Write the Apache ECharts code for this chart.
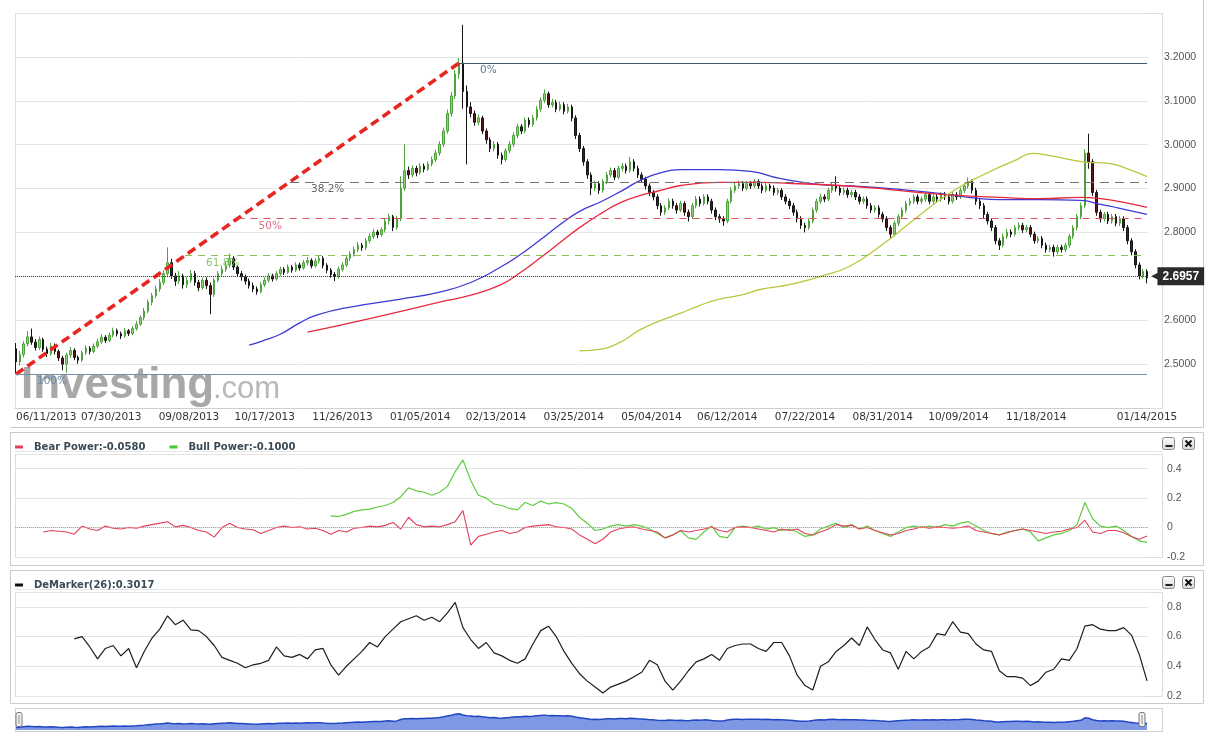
<!DOCTYPE html>
<html><head><meta charset="utf-8">
<script src="https://cdn.jsdelivr.net/npm/echarts@6/dist/echarts.min.js"></script>
<style>html,body{margin:0;padding:0;background:#fff}#c{width:1220px;height:740px}</style>
</head><body><div id="c"></div>
<script>
// ---------- DATA ----------
const startDay = '2013-06-11';
const endDay = '2015-01-14';
const tickLabels = ['06/11/2013','07/30/2013','09/08/2013','10/17/2013','11/26/2013','01/05/2014','02/13/2014','03/25/2014','05/04/2014','06/12/2014','07/22/2014','08/31/2014','10/09/2014','11/18/2014','01/14/2015'];
const candleStepDays = 2;
// [open, close, low, high]
const candles = [
[2.535,2.505,2.478,2.548],[2.505,2.522,2.497,2.530],[2.522,2.546,2.515,2.552],[2.546,2.562,2.540,2.575],[2.562,2.550,2.544,2.581],[2.550,2.538,2.531,2.557],[2.538,2.556,2.532,2.563],[2.556,2.534,2.528,2.560],[2.534,2.524,2.516,2.540],[2.524,2.541,2.519,2.548],
[2.541,2.529,2.522,2.547],[2.529,2.514,2.507,2.533],[2.514,2.500,2.486,2.519],[2.500,2.521,2.480,2.526],[2.521,2.531,2.514,2.539],[2.531,2.515,2.509,2.536],[2.515,2.509,2.501,2.520],[2.509,2.526,2.505,2.531],[2.526,2.536,2.521,2.543],[2.536,2.529,2.522,2.541],
[2.529,2.541,2.525,2.547],[2.541,2.551,2.536,2.558],[2.551,2.561,2.546,2.568],[2.561,2.554,2.548,2.566],[2.554,2.566,2.550,2.572],[2.566,2.576,2.561,2.583],[2.576,2.569,2.563,2.581],[2.569,2.564,2.557,2.574],[2.564,2.576,2.560,2.582],[2.576,2.570,2.564,2.580],
[2.570,2.581,2.566,2.587],[2.581,2.591,2.576,2.598],[2.591,2.606,2.587,2.611],[2.606,2.621,2.600,2.628],[2.621,2.641,2.616,2.647],[2.641,2.656,2.634,2.662],[2.656,2.671,2.650,2.679],[2.671,2.686,2.665,2.694],[2.686,2.706,2.680,2.714],[2.706,2.731,2.698,2.766],
[2.731,2.701,2.694,2.740],[2.701,2.689,2.678,2.708],[2.689,2.701,2.682,2.712],[2.701,2.681,2.672,2.706],[2.681,2.691,2.673,2.699],[2.691,2.706,2.685,2.714],[2.706,2.686,2.679,2.712],[2.686,2.674,2.666,2.692],[2.674,2.691,2.669,2.697],[2.691,2.679,2.671,2.698],
[2.679,2.659,2.614,2.686],[2.659,2.691,2.653,2.697],[2.691,2.706,2.686,2.712],[2.706,2.716,2.699,2.723],[2.716,2.726,2.710,2.733],[2.726,2.741,2.720,2.752],[2.741,2.721,2.714,2.746],[2.721,2.706,2.698,2.726],[2.706,2.699,2.690,2.712],[2.699,2.689,2.681,2.704],
[2.689,2.679,2.672,2.695],[2.679,2.671,2.664,2.686],[2.671,2.665,2.658,2.677],[2.665,2.681,2.661,2.687],[2.681,2.691,2.676,2.698],[2.691,2.701,2.686,2.707],[2.701,2.694,2.688,2.706],[2.694,2.706,2.690,2.712],[2.706,2.716,2.701,2.722],[2.716,2.709,2.703,2.721],
[2.709,2.721,2.705,2.727],[2.721,2.714,2.708,2.726],[2.714,2.726,2.710,2.732],[2.726,2.719,2.713,2.731],[2.719,2.731,2.715,2.737],[2.731,2.736,2.725,2.744],[2.736,2.724,2.718,2.741],[2.724,2.735,2.720,2.741],[2.735,2.741,2.729,2.748],[2.741,2.725,2.718,2.746],
[2.725,2.714,2.707,2.730],[2.714,2.704,2.697,2.719],[2.704,2.700,2.689,2.710],[2.700,2.716,2.695,2.722],[2.716,2.726,2.711,2.732],[2.726,2.741,2.721,2.747],[2.741,2.751,2.735,2.757],[2.751,2.761,2.745,2.768],[2.761,2.771,2.755,2.778],[2.771,2.765,2.758,2.776],
[2.765,2.781,2.760,2.787],[2.781,2.791,2.775,2.798],[2.791,2.801,2.785,2.808],[2.801,2.795,2.787,2.806],[2.795,2.806,2.790,2.812],[2.806,2.826,2.800,2.833],[2.826,2.836,2.818,2.843],[2.836,2.811,2.803,2.840],[2.811,2.831,2.806,2.838],[2.831,2.901,2.826,2.928],
[2.901,2.941,2.895,3.001],[2.941,2.931,2.922,2.950],[2.931,2.946,2.926,2.953],[2.946,2.936,2.928,2.952],[2.936,2.951,2.931,2.958],[2.951,2.944,2.937,2.957],[2.944,2.956,2.940,2.962],[2.956,2.966,2.951,2.973],[2.966,2.981,2.960,2.988],[2.981,3.001,2.975,3.008],
[3.001,3.031,2.995,3.039],[3.031,3.071,3.025,3.080],[3.071,3.111,3.064,3.120],[3.111,3.161,3.104,3.170],[3.161,3.186,3.150,3.197],[3.186,3.121,3.082,3.273],[3.121,3.086,2.955,3.135],[3.086,3.071,3.062,3.097],[3.071,3.051,3.043,3.078],[3.051,3.061,3.044,3.069],
[3.061,3.031,3.024,3.066],[3.031,3.011,3.002,3.037],[3.011,2.991,2.983,3.017],[2.991,3.001,2.985,3.008],[3.001,2.976,2.968,3.006],[2.976,2.966,2.955,2.982],[2.966,2.986,2.961,2.992],[2.986,3.001,2.980,3.008],[3.001,3.021,2.995,3.028],[3.021,3.041,3.015,3.048],
[3.041,3.031,3.024,3.047],[3.031,3.056,3.026,3.062],[3.056,3.046,3.039,3.062],[3.046,3.061,3.041,3.068],[3.061,3.081,3.055,3.088],[3.081,3.101,3.075,3.108],[3.101,3.116,3.095,3.126],[3.116,3.091,3.084,3.121],[3.091,3.096,3.085,3.104],[3.096,3.081,3.074,3.102],
[3.081,3.091,3.076,3.098],[3.091,3.076,3.069,3.097],[3.076,3.086,3.071,3.093],[3.086,3.061,3.053,3.091],[3.061,3.021,3.013,3.067],[3.021,2.991,2.983,3.027],[2.991,2.961,2.952,2.997],[2.961,2.931,2.922,2.967],[2.931,2.901,2.885,2.937],[2.901,2.911,2.894,2.918],
[2.911,2.896,2.888,2.917],[2.896,2.916,2.891,2.922],[2.916,2.931,2.910,2.938],[2.931,2.941,2.925,2.948],[2.941,2.926,2.919,2.947],[2.926,2.946,2.921,2.952],[2.946,2.951,2.939,2.958],[2.951,2.941,2.934,2.957],[2.941,2.961,2.936,2.972],[2.961,2.946,2.939,2.967],
[2.946,2.931,2.924,2.952],[2.931,2.921,2.913,2.937],[2.921,2.906,2.898,2.927],[2.906,2.891,2.883,2.912],[2.891,2.881,2.873,2.897],[2.881,2.861,2.853,2.887],[2.861,2.846,2.838,2.867],[2.846,2.856,2.840,2.862],[2.856,2.871,2.851,2.877],[2.871,2.861,2.854,2.877],
[2.861,2.851,2.843,2.867],[2.851,2.866,2.846,2.872],[2.866,2.846,2.838,2.871],[2.846,2.836,2.825,2.852],[2.836,2.861,2.831,2.867],[2.861,2.876,2.855,2.883],[2.876,2.866,2.859,2.882],[2.866,2.881,2.861,2.887],[2.881,2.871,2.864,2.887],[2.871,2.851,2.843,2.877],
[2.851,2.836,2.828,2.857],[2.836,2.831,2.822,2.842],[2.831,2.826,2.815,2.837],[2.826,2.871,2.821,2.877],[2.871,2.896,2.866,2.903],[2.896,2.906,2.890,2.913],[2.906,2.911,2.900,2.918],[2.911,2.901,2.894,2.917],[2.901,2.911,2.896,2.917],[2.911,2.906,2.899,2.917],
[2.906,2.916,2.901,2.922],[2.916,2.906,2.899,2.921],[2.906,2.896,2.889,2.912],[2.896,2.906,2.891,2.912],[2.906,2.901,2.894,2.911],[2.901,2.891,2.884,2.907],[2.891,2.896,2.885,2.902],[2.896,2.881,2.874,2.901],[2.881,2.871,2.864,2.887],[2.871,2.861,2.853,2.877],
[2.861,2.846,2.838,2.867],[2.846,2.831,2.823,2.852],[2.831,2.816,2.808,2.837],[2.816,2.811,2.800,2.822],[2.811,2.826,2.806,2.832],[2.826,2.851,2.821,2.857],[2.851,2.871,2.845,2.877],[2.871,2.881,2.865,2.888],[2.881,2.876,2.869,2.887],[2.876,2.896,2.871,2.902],
[2.896,2.906,2.890,2.913],[2.906,2.901,2.893,2.928],[2.901,2.891,2.884,2.907],[2.891,2.896,2.885,2.903],[2.896,2.886,2.879,2.902],[2.886,2.891,2.880,2.897],[2.891,2.881,2.874,2.897],[2.881,2.871,2.864,2.887],[2.871,2.876,2.865,2.882],[2.876,2.861,2.854,2.882],
[2.861,2.851,2.844,2.867],[2.851,2.856,2.845,2.862],[2.856,2.841,2.834,2.862],[2.841,2.831,2.823,2.847],[2.831,2.811,2.803,2.837],[2.811,2.796,2.785,2.817],[2.796,2.821,2.791,2.827],[2.821,2.836,2.815,2.842],[2.836,2.851,2.830,2.857],[2.851,2.866,2.845,2.872],
[2.866,2.871,2.860,2.878],[2.871,2.881,2.865,2.887],[2.881,2.871,2.864,2.887],[2.871,2.876,2.865,2.882],[2.876,2.886,2.870,2.892],[2.886,2.871,2.864,2.892],[2.871,2.881,2.865,2.887],[2.881,2.876,2.869,2.887],[2.876,2.886,2.870,2.892],[2.886,2.881,2.874,2.892],
[2.881,2.871,2.864,2.887],[2.871,2.886,2.866,2.892],[2.886,2.881,2.874,2.892],[2.881,2.896,2.876,2.902],[2.896,2.906,2.890,2.913],[2.906,2.916,2.900,2.925],[2.916,2.896,2.889,2.921],[2.896,2.871,2.863,2.902],[2.871,2.861,2.853,2.877],[2.861,2.841,2.833,2.867],
[2.841,2.826,2.818,2.847],[2.826,2.811,2.803,2.832],[2.811,2.781,2.773,2.817],[2.781,2.771,2.760,2.787],[2.771,2.791,2.766,2.797],[2.791,2.801,2.785,2.808],[2.801,2.796,2.789,2.807],[2.796,2.811,2.791,2.817],[2.811,2.816,2.805,2.823],[2.816,2.806,2.799,2.822],
[2.806,2.811,2.800,2.817],[2.811,2.796,2.789,2.817],[2.796,2.781,2.774,2.802],[2.781,2.786,2.775,2.792],[2.786,2.771,2.764,2.792],[2.771,2.761,2.754,2.777],[2.761,2.766,2.755,2.772],[2.766,2.756,2.745,2.772],[2.756,2.766,2.750,2.772],[2.766,2.761,2.754,2.772],
[2.761,2.771,2.755,2.777],[2.771,2.791,2.765,2.797],[2.791,2.811,2.785,2.817],[2.811,2.836,2.805,2.842],[2.836,2.861,2.830,2.868],[2.861,2.981,2.855,2.990],[2.981,2.961,2.945,3.025],[2.961,2.891,2.883,2.967],[2.891,2.846,2.838,2.897],[2.846,2.831,2.823,2.852],
[2.831,2.841,2.825,2.847],[2.841,2.826,2.819,2.847],[2.826,2.836,2.820,2.842],[2.836,2.821,2.814,2.842],[2.821,2.831,2.815,2.837],[2.831,2.811,2.803,2.837],[2.811,2.781,2.773,2.817],[2.781,2.756,2.748,2.787],[2.756,2.726,2.718,2.762],[2.726,2.701,2.693,2.732],
[2.701,2.711,2.695,2.717],[2.711,2.696,2.684,2.716]
];
// moving averages: [dayIndex, value]
const maBlue = [[120,2.543],[127,2.553],[136,2.568],[146,2.594],[155,2.612],[172,2.630],[198,2.648],[218,2.664],[234,2.686],[249,2.720],[259,2.748],[270,2.784],[280,2.818],[290,2.848],[301,2.870],[311,2.893],[321,2.918],[331,2.935],[342,2.943],[362,2.943],[378,2.939],[393,2.923],[414,2.909],[434,2.905],[455,2.898],[475,2.889],[496,2.877],[506,2.875],[527,2.875],[548,2.873],[558,2.864],[568,2.855],[582,2.841]];
const maRed = [[150,2.573],[167,2.589],[198,2.620],[218,2.641],[234,2.657],[249,2.680],[259,2.707],[270,2.743],[280,2.777],[290,2.811],[301,2.843],[311,2.868],[321,2.884],[331,2.895],[342,2.907],[362,2.914],[383,2.914],[403,2.911],[424,2.907],[445,2.900],[465,2.891],[486,2.884],[506,2.880],[527,2.877],[548,2.880],[558,2.877],[568,2.870],[582,2.857]];
const maYellow = [[290,2.530],[301,2.534],[311,2.550],[321,2.578],[331,2.598],[342,2.616],[352,2.634],[362,2.648],[373,2.657],[383,2.670],[393,2.677],[403,2.686],[414,2.700],[429,2.723],[446,2.773],[464,2.836],[481,2.891],[498,2.932],[515,2.966],[523,2.980],[532,2.975],[549,2.961],[563,2.957],[573,2.943],[582,2.927]];
const indicatorStepDays = 4;
const bearStartDay = 14;
const bearPower = [-0.03,-0.02,-0.025,-0.03,-0.045,0.01,-0.01,-0.02,0.01,-0.005,
-0.01,0.0,-0.005,0.01,0.02,0.03,0.04,0.005,0.015,0.0,
-0.02,-0.03,-0.065,0.0,0.03,0.0,-0.01,-0.015,-0.04,-0.02,
0.0,0.01,0.0,0.005,-0.01,-0.005,-0.02,-0.045,-0.02,-0.03,
-0.005,0.0,0.01,0.005,0.015,0.035,-0.01,0.07,0.02,0.005,
0.01,0.005,0.02,0.04,0.115,-0.12,-0.06,-0.045,-0.03,-0.02,
-0.04,-0.03,0.0,0.01,0.015,0.02,0.005,0.0,-0.01,-0.05,
-0.08,-0.11,-0.08,-0.03,-0.01,0.0,0.005,-0.01,-0.02,-0.03,
-0.07,-0.05,-0.02,-0.03,-0.02,-0.01,0.005,-0.02,-0.03,0.0,
0.005,0.0,-0.01,-0.02,-0.03,-0.01,-0.02,-0.01,-0.04,-0.05,
-0.03,-0.01,0.02,0.01,0.015,-0.01,0.0,-0.02,-0.035,-0.05,
-0.04,-0.02,-0.01,0.005,-0.005,0.005,0.0,-0.005,0.0,0.01,
-0.02,-0.03,-0.04,-0.05,-0.035,-0.02,-0.01,-0.02,-0.03,-0.04,
-0.03,-0.025,-0.01,0.0,0.05,-0.03,-0.04,-0.02,-0.02,-0.035,
-0.06,-0.08,-0.058];
const bullStartDay = 162;
const bullPower = [0.08,0.075,0.09,0.11,0.12,0.125,0.14,0.15,0.17,0.21,
0.27,0.25,0.24,0.22,0.24,0.28,0.38,0.46,0.32,0.22,
0.2,0.16,0.15,0.13,0.12,0.17,0.15,0.18,0.16,0.17,
0.16,0.13,0.07,0.03,-0.02,-0.01,0.01,0.02,0.01,0.02,
0.01,-0.01,-0.04,-0.07,-0.05,-0.02,-0.07,-0.08,-0.03,0.01,
-0.06,-0.07,0.0,0.01,0.0,0.01,-0.01,0.0,-0.02,-0.01,
-0.03,-0.06,-0.05,-0.01,0.01,0.03,0.0,0.02,-0.01,0.01,
-0.02,-0.04,-0.06,-0.03,0.0,0.01,0.0,0.01,0.0,0.02,
0.01,0.03,0.04,0.01,-0.02,-0.04,-0.05,-0.03,-0.02,-0.01,
-0.03,-0.09,-0.07,-0.05,-0.04,-0.02,0.02,0.17,0.06,0.01,
0.0,0.01,-0.02,-0.06,-0.09,-0.10];
const demStartDay = 30;
const deMarker = [0.585,0.60,0.53,0.45,0.52,0.54,0.47,0.52,0.39,0.50,
0.59,0.65,0.74,0.68,0.71,0.645,0.64,0.60,0.54,0.46,
0.44,0.42,0.39,0.41,0.42,0.44,0.53,0.47,0.46,0.48,
0.45,0.51,0.52,0.41,0.34,0.40,0.45,0.50,0.56,0.53,
0.60,0.65,0.70,0.72,0.74,0.71,0.73,0.70,0.76,0.83,
0.66,0.58,0.52,0.56,0.49,0.47,0.44,0.42,0.45,0.55,
0.64,0.67,0.60,0.50,0.42,0.35,0.30,0.26,0.22,0.26,
0.28,0.30,0.33,0.36,0.44,0.41,0.30,0.24,0.30,0.37,
0.43,0.45,0.48,0.44,0.52,0.54,0.55,0.55,0.52,0.50,
0.56,0.56,0.47,0.34,0.27,0.24,0.40,0.43,0.50,0.54,
0.59,0.54,0.665,0.58,0.51,0.49,0.38,0.50,0.45,0.50,
0.53,0.62,0.61,0.70,0.63,0.62,0.55,0.51,0.50,0.37,
0.33,0.33,0.32,0.27,0.30,0.36,0.38,0.45,0.44,0.52,
0.67,0.68,0.65,0.64,0.64,0.66,0.61,0.48,0.3017];
const fibLow = {day: 0, price: 2.477};
const fibHigh = {day: 228, price: 3.186};
const fibPcts = [0, 0.382, 0.5, 0.618, 1];
const fibTexts = ['0%', '38.2%', '50%', '61.8%', '100%'];
const lastPrice = 2.6957;

// ---------- BUILD ----------
const days = [];
for (let t = Date.parse(startDay + 'T00:00:00Z'); t <= Date.parse(endDay + 'T00:00:00Z'); t += 86400000) {
  const d = new Date(t);
  days.push(String(d.getUTCMonth() + 1).padStart(2, '0') + '/' + String(d.getUTCDate()).padStart(2, '0') + '/' + d.getUTCFullYear());
}
const lastDay = days.length - 1;
const tickSet = new Set(tickLabels);
const candleData = candles.map((c, i) => [i * candleStepDays, c[0], c[1], c[2], c[3]]);
const navData = candles.map((c, i) => [i * candleStepDays, c[1]]);
const seq = (arr, start) => arr.map((v, k) => [start + k * indicatorStepDays, v]);

const F = 'DejaVu Sans';
const fibStyle = [
  {color: '#3d5f75', type: 'solid', width: 1.2, lc: '#5b7d98'},
  {color: '#707070', type: [9, 6], width: 1.2, lc: '#666666'},
  {color: '#e0505f', type: [7, 6], width: 1.1, lc: '#e0708a'},
  {color: '#86c450', type: [7, 6], width: 1.1, lc: '#8cc868'},
  {color: '#7390ae', type: 'solid', width: 1.2, lc: '#6c8cb0'}
];
const fibLines = fibPcts.map((p, k) => {
  const price = fibHigh.price - p * (fibHigh.price - fibLow.price);
  const sd = fibHigh.day - p * (fibHigh.day - fibLow.day);
  const s = fibStyle[k];
  return [{coord: [sd, price], lineStyle: {color: s.color, type: s.type, width: s.width},
           label: {show: true, position: 'insideStartBottom', distance: [21, 2], formatter: fibTexts[k], color: s.lc, fontSize: 10.5, fontFamily: F}},
          {coord: [lastDay, price]}];
});
const markLines = [
  [{coord: [fibLow.day, fibLow.price], lineStyle: {color: '#e8251f', width: 3.6, type: [9, 5]}, label: {show: false}},
   {coord: [fibHigh.day, fibHigh.price]}],
  ...fibLines,
  {yAxis: lastPrice, lineStyle: {color: '#444', type: 'dotted', width: 1},
   label: {show: true, position: 'end', distance: 3,
     formatter: '{a|◀}{b|' + lastPrice.toFixed(4) + '}',
     rich: {a: {color: '#2b2b2b', fontSize: 11, fontFamily: F, padding: [0, -2, 0, 0]},
            b: {backgroundColor: '#2b2b2b', color: '#fff', fontWeight: 'bold', fontSize: 12, fontFamily: 'Liberation Sans', padding: [3, 5, 3, 5]}}}}
];

const bearName = 'Bear Power:' + bearPower[bearPower.length - 1].toFixed(4);
const bullName = 'Bull Power:' + bullPower[bullPower.length - 1].toFixed(4);
const demName = 'DeMarker(26):' + deMarker[deMarker.length - 1].toFixed(4);

const grad = () => new echarts.graphic.LinearGradient(0, 0, 0, 1, [{offset: 0, color: '#ffffff'}, {offset: 1, color: '#d6d6d6'}]);
const box = (x, y, w, h, stroke) => ({type: 'rect', silent: true, shape: {x: x, y: y, width: w, height: h}, style: {fill: 'none', stroke: stroke, lineWidth: 1}});
const hl = (x1, x2, y, stroke) => ({type: 'line', silent: true, shape: {x1: x1, y1: y, x2: x2, y2: y}, style: {stroke: stroke, lineWidth: 1}});
const buttons = (y) => [
  {type: 'rect', silent: true, shape: {x: 1162.5, y: y + 0.5, width: 12, height: 12, r: 2}, style: {fill: grad(), stroke: '#8a8a8a'}},
  {type: 'rect', silent: true, shape: {x: 1165.5, y: y + 8, width: 7, height: 2}, style: {fill: '#222'}},
  {type: 'rect', silent: true, shape: {x: 1182.5, y: y + 0.5, width: 12, height: 12, r: 2}, style: {fill: grad(), stroke: '#8a8a8a'}},
  {type: 'line', silent: true, shape: {x1: 1185.5, y1: y + 3.5, x2: 1191.5, y2: y + 9.5}, style: {stroke: '#111', lineWidth: 2}},
  {type: 'line', silent: true, shape: {x1: 1191.5, y1: y + 3.5, x2: 1185.5, y2: y + 9.5}, style: {stroke: '#111', lineWidth: 2}}
];
const handle = (x) => [
  {type: 'rect', silent: true, z: 10, shape: {x: x, y: 712.5, width: 6, height: 14, r: 2}, style: {fill: '#f2f2f2', stroke: '#777'}},
  {type: 'line', silent: true, z: 11, shape: {x1: x + 3, y1: 715, x2: x + 3, y2: 724}, style: {stroke: '#888', lineWidth: 1}}
];

const graphics = [
  box(15.5, 13.5, 1147, 395, '#dedede'),
  box(15.5, 454.5, 1147, 103, '#dedede'),
  box(15.5, 592.5, 1147, 104, '#dedede'),
  box(15.5, 708.5, 1147, 23, '#cfcfcf'),
  {type: 'line', silent: true, shape: {x1: 1203.5, y1: 0, x2: 1203.5, y2: 428}, style: {stroke: '#cccccc', lineWidth: 1}},
  hl(10, 1204, 427.5, '#c8c8c8'),
  box(10.5, 432.5, 1193, 133, '#cccccc'),
  hl(15, 1162, 451.5, '#e6e6e6'),
  box(10.5, 570.5, 1193, 133, '#cccccc'),
  hl(15, 1162, 589.5, '#e6e6e6'),
  ...buttons(437), ...buttons(576),
  ...handle(16), ...handle(1139),
  {type: 'text', silent: true, left: 21, top: 364, style: {text: 'Investing', font: 'bold 44px "Liberation Sans"', fill: 'rgba(135,135,135,0.72)'}},
  {type: 'text', silent: true, left: 213, top: 374, style: {text: '.com', font: '31px "Liberation Sans"', fill: 'rgba(150,150,150,0.68)'}}
];

const xBase = (gi) => ({type: 'category', gridIndex: gi, data: days, boundaryGap: true,
  axisTick: {show: false}, axisLine: {show: false}, axisLabel: {show: false}, splitLine: {show: false}});
const mainX = xBase(0);
mainX.axisLine = {show: true, lineStyle: {color: '#cfcfcf'}};
mainX.axisLabel = {show: true, interval: (i, v) => tickSet.has(v), color: '#333', fontSize: 10.5, fontFamily: F, margin: 4, alignMinLabel: 'left'};

const yCommon = (gi, min, max, interval, fmt, margin, showMin) => ({
  type: 'value', gridIndex: gi, position: 'right', min: min, max: max, interval: interval, scale: true,
  axisLine: {show: false}, axisTick: {show: false},
  splitLine: {lineStyle: {color: '#e4e4e4'}},
  axisLabel: {color: '#555', fontSize: 10.5, fontFamily: 'Liberation Sans', margin: margin, formatter: fmt, showMaxLabel: false, showMinLabel: showMin}
});

const option = {
  animation: false,
  backgroundColor: '#fff',
  textStyle: {fontFamily: F},
  grid: [
    {left: 15, right: 72, top: 13, height: 395},
    {left: 15, right: 72, top: 454, height: 103},
    {left: 15, right: 72, top: 592, height: 104},
    {left: 15, right: 72, top: 711, height: 19}
  ],
  xAxis: [mainX, xBase(1), xBase(2), xBase(3)],
  yAxis: [
    yCommon(0, 2.4, 3.3, 0.1, v => v.toFixed(4), 16, false),
    yCommon(1, -0.2, 0.5, 0.2, v => String(Math.round(v * 10) / 10), 19, true),
    yCommon(2, 0.2, 0.9, 0.2, v => String(Math.round(v * 10) / 10), 19, true),
    {type: 'value', gridIndex: 3, min: 2.38, max: 3.32, show: false, splitLine: {show: false}}
  ],
  legend: [
    {data: [bearName, bullName], left: 10, top: 437, icon: 'rect', itemWidth: 8, itemHeight: 3, itemGap: 24, selectedMode: false,
     textStyle: {fontFamily: F, fontWeight: 'bold', fontSize: 10, color: '#3b4b56', padding: [0, 0, 0, 6]}},
    {data: [demName], left: 10, top: 575, icon: 'rect', itemWidth: 8, itemHeight: 3, selectedMode: false,
     textStyle: {fontFamily: F, fontWeight: 'bold', fontSize: 10, color: '#3b4b56', padding: [0, 0, 0, 6]}}
  ],
  graphic: graphics,
  series: [
    {type: 'candlestick', name: 'Price', xAxisIndex: 0, yAxisIndex: 0, data: candleData, encode: {x: 0, y: [1, 2, 3, 4]},
     barWidth: 2, z: 3,
     itemStyle: {color: '#8fd07a', color0: '#5b1616', borderColor: '#4fa33c', borderColor0: '#151515', borderWidth: 1},
     markLine: {silent: true, symbol: ['none', 'none'], label: {show: false}, data: markLines, z: 5}},
    {type: 'line', name: 'MA1', xAxisIndex: 0, yAxisIndex: 0, data: maBlue, smooth: true, showSymbol: false, lineStyle: {color: '#3a3ad6', width: 1.3}, itemStyle: {color: '#3a3ad6'}, z: 4},
    {type: 'line', name: 'MA2', xAxisIndex: 0, yAxisIndex: 0, data: maRed, smooth: true, showSymbol: false, lineStyle: {color: '#e8283c', width: 1.3}, itemStyle: {color: '#e8283c'}, z: 4},
    {type: 'line', name: 'MA3', xAxisIndex: 0, yAxisIndex: 0, data: maYellow, smooth: true, showSymbol: false, lineStyle: {color: '#bcc63c', width: 1.3}, itemStyle: {color: '#bcc63c'}, z: 4},
    {type: 'line', name: bearName, xAxisIndex: 1, yAxisIndex: 1, data: seq(bearPower, bearStartDay), showSymbol: false,
     lineStyle: {color: '#e0405a', width: 1.1}, itemStyle: {color: '#e0405a'}, z: 4,
     markLine: {silent: true, symbol: ['none', 'none'], label: {show: false}, lineStyle: {color: '#ec8a98', type: 'dotted', width: 1}, data: [{yAxis: 0}]}},
    {type: 'line', name: bullName, xAxisIndex: 1, yAxisIndex: 1, data: seq(bullPower, bullStartDay), showSymbol: false,
     lineStyle: {color: '#5fcc3e', width: 1.2}, itemStyle: {color: '#3fcc2e'}, z: 3},
    {type: 'line', name: demName, xAxisIndex: 2, yAxisIndex: 2, data: seq(deMarker, demStartDay), showSymbol: false,
     lineStyle: {color: '#1e1e1e', width: 1.2}, itemStyle: {color: '#111'}},
    {type: 'line', name: 'nav', xAxisIndex: 3, yAxisIndex: 3, data: navData, showSymbol: false, smooth: false,
     lineStyle: {color: '#2246c2', width: 1.5}, areaStyle: {color: '#7f98e4', opacity: 1}}
  ]
};
const chart = echarts.init(document.getElementById('c'));
chart.setOption(option);
</script>
</body></html>
